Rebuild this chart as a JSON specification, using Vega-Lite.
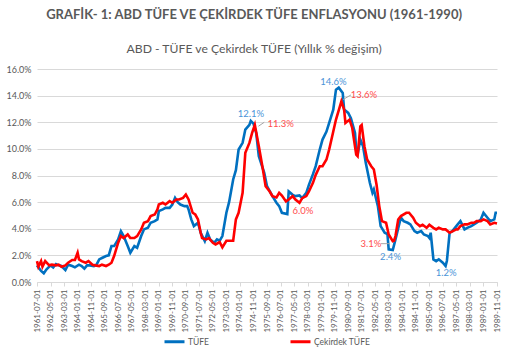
{
"$schema":"https://vega.github.io/schema/vega-lite/v6.json",
"width":460,"height":213,
"padding":{"left":6,"right":5,"top":8,"bottom":5},
"background":"white",
"config":{"font":"Lato","view":{"stroke":null},"legend":{"layout":{"bottom":{"anchor":"middle"}}}},
"title":{"text":"GRAFİK- 1: ABD TÜFE VE ÇEKİRDEK TÜFE ENFLASYONU (1961-1990)","subtitle":"ABD - TÜFE ve Çekirdek TÜFE (Yıllık % değişim)","anchor":"middle","frame":"bounds","fontSize":13,"fontWeight":"bold","color":"#595959","subtitleFontSize":12.2,"subtitleColor":"#595959","subtitlePadding":21,"offset":10},
"datasets":{
"series":[
{"s":"TÜFE","d":"1961-07-01","v":1.25},{"s":"TÜFE","d":"1961-10-01","v":0.83},{"s":"TÜFE","d":"1961-12-01","v":0.65},{"s":"TÜFE","d":"1962-02-01","v":0.95},{"s":"TÜFE","d":"1962-05-01","v":1.25},{"s":"TÜFE","d":"1962-07-01","v":1.1},{"s":"TÜFE","d":"1962-09-01","v":1.35},{"s":"TÜFE","d":"1962-11-01","v":1.25},{"s":"TÜFE","d":"1963-01-01","v":1.2},{"s":"TÜFE","d":"1963-04-01","v":0.9},{"s":"TÜFE","d":"1963-06-01","v":1.3},{"s":"TÜFE","d":"1963-09-01","v":1.2},{"s":"TÜFE","d":"1963-11-01","v":1.1},{"s":"TÜFE","d":"1964-02-01","v":1.3},{"s":"TÜFE","d":"1964-04-01","v":1.2},{"s":"TÜFE","d":"1964-06-01","v":1.0},{"s":"TÜFE","d":"1964-08-01","v":1.25},{"s":"TÜFE","d":"1964-10-01","v":1.25},{"s":"TÜFE","d":"1965-01-01","v":1.2},{"s":"TÜFE","d":"1965-03-01","v":1.3},{"s":"TÜFE","d":"1965-05-01","v":1.7},{"s":"TÜFE","d":"1965-07-01","v":1.8},{"s":"TÜFE","d":"1965-10-01","v":1.95},{"s":"TÜFE","d":"1965-12-01","v":2.0},{"s":"TÜFE","d":"1966-02-01","v":2.7},{"s":"TÜFE","d":"1966-04-01","v":2.7},{"s":"TÜFE","d":"1966-07-01","v":3.2},{"s":"TÜFE","d":"1966-09-01","v":3.82},{"s":"TÜFE","d":"1966-11-01","v":3.45},{"s":"TÜFE","d":"1967-02-01","v":2.7},{"s":"TÜFE","d":"1967-04-01","v":2.2},{"s":"TÜFE","d":"1967-07-01","v":2.7},{"s":"TÜFE","d":"1967-09-01","v":2.57},{"s":"TÜFE","d":"1967-12-01","v":3.45},{"s":"TÜFE","d":"1968-02-01","v":3.95},{"s":"TÜFE","d":"1968-05-01","v":4.07},{"s":"TÜFE","d":"1968-07-01","v":4.45},{"s":"TÜFE","d":"1968-10-01","v":4.57},{"s":"TÜFE","d":"1968-12-01","v":4.7},{"s":"TÜFE","d":"1969-01-01","v":5.32},{"s":"TÜFE","d":"1969-04-01","v":5.45},{"s":"TÜFE","d":"1969-06-01","v":5.57},{"s":"TÜFE","d":"1969-09-01","v":5.57},{"s":"TÜFE","d":"1969-11-01","v":5.82},{"s":"TÜFE","d":"1970-01-01","v":6.32},{"s":"TÜFE","d":"1970-03-01","v":6.0},{"s":"TÜFE","d":"1970-05-01","v":5.82},{"s":"TÜFE","d":"1970-08-01","v":5.7},{"s":"TÜFE","d":"1970-10-01","v":5.7},{"s":"TÜFE","d":"1970-11-01","v":5.45},{"s":"TÜFE","d":"1971-01-01","v":4.7},{"s":"TÜFE","d":"1971-03-01","v":4.2},{"s":"TÜFE","d":"1971-06-01","v":4.45},{"s":"TÜFE","d":"1971-08-01","v":3.7},{"s":"TÜFE","d":"1971-11-01","v":3.07},{"s":"TÜFE","d":"1972-01-01","v":3.7},{"s":"TÜFE","d":"1972-03-01","v":3.2},{"s":"TÜFE","d":"1972-06-01","v":2.95},{"s":"TÜFE","d":"1972-08-01","v":3.2},{"s":"TÜFE","d":"1972-10-01","v":3.1},{"s":"TÜFE","d":"1972-12-01","v":3.45},{"s":"TÜFE","d":"1973-03-01","v":5.2},{"s":"TÜFE","d":"1973-05-01","v":6.0},{"s":"TÜFE","d":"1973-08-01","v":7.7},{"s":"TÜFE","d":"1973-10-01","v":8.4},{"s":"TÜFE","d":"1973-12-01","v":9.95},{"s":"TÜFE","d":"1974-03-01","v":10.45},{"s":"TÜFE","d":"1974-05-01","v":11.45},{"s":"TÜFE","d":"1974-08-01","v":11.8},{"s":"TÜFE","d":"1974-09-01","v":12.1},{"s":"TÜFE","d":"1974-11-01","v":11.9},{"s":"TÜFE","d":"1975-01-01","v":11.2},{"s":"TÜFE","d":"1975-03-01","v":9.45},{"s":"TÜFE","d":"1975-07-01","v":8.2},{"s":"TÜFE","d":"1975-09-01","v":7.2},{"s":"TÜFE","d":"1976-01-01","v":6.45},{"s":"TÜFE","d":"1976-04-01","v":5.95},{"s":"TÜFE","d":"1976-06-01","v":5.7},{"s":"TÜFE","d":"1976-08-01","v":5.2},{"s":"TÜFE","d":"1976-12-01","v":5.1},{"s":"TÜFE","d":"1977-01-01","v":6.8},{"s":"TÜFE","d":"1977-04-01","v":6.55},{"s":"TÜFE","d":"1977-06-01","v":6.45},{"s":"TÜFE","d":"1977-09-01","v":6.5},{"s":"TÜFE","d":"1977-11-01","v":6.3},{"s":"TÜFE","d":"1978-02-01","v":6.7},{"s":"TÜFE","d":"1978-04-01","v":7.3},{"s":"TÜFE","d":"1978-07-01","v":8.1},{"s":"TÜFE","d":"1978-09-01","v":8.7},{"s":"TÜFE","d":"1978-12-01","v":9.95},{"s":"TÜFE","d":"1979-02-01","v":10.7},{"s":"TÜFE","d":"1979-05-01","v":11.3},{"s":"TÜFE","d":"1979-07-01","v":11.95},{"s":"TÜFE","d":"1979-10-01","v":12.95},{"s":"TÜFE","d":"1979-12-01","v":14.45},{"s":"TÜFE","d":"1980-02-01","v":14.6},{"s":"TÜFE","d":"1980-05-01","v":14.2},{"s":"TÜFE","d":"1980-06-01","v":12.95},{"s":"TÜFE","d":"1980-09-01","v":12.7},{"s":"TÜFE","d":"1980-11-01","v":12.3},{"s":"TÜFE","d":"1981-02-01","v":11.2},{"s":"TÜFE","d":"1981-03-01","v":9.95},{"s":"TÜFE","d":"1981-04-01","v":9.57},{"s":"TÜFE","d":"1981-06-01","v":10.7},{"s":"TÜFE","d":"1981-08-01","v":10.2},{"s":"TÜFE","d":"1981-10-01","v":8.95},{"s":"TÜFE","d":"1982-01-01","v":7.45},{"s":"TÜFE","d":"1982-03-01","v":6.7},{"s":"TÜFE","d":"1982-04-01","v":6.95},{"s":"TÜFE","d":"1982-07-01","v":5.7},{"s":"TÜFE","d":"1982-09-01","v":4.2},{"s":"TÜFE","d":"1982-12-01","v":3.7},{"s":"TÜFE","d":"1983-02-01","v":3.6},{"s":"TÜFE","d":"1983-03-01","v":2.45},{"s":"TÜFE","d":"1983-06-01","v":2.4},{"s":"TÜFE","d":"1983-08-01","v":3.2},{"s":"TÜFE","d":"1983-11-01","v":4.45},{"s":"TÜFE","d":"1983-12-01","v":4.83},{"s":"TÜFE","d":"1984-02-01","v":4.57},{"s":"TÜFE","d":"1984-05-01","v":4.45},{"s":"TÜFE","d":"1984-07-01","v":4.33},{"s":"TÜFE","d":"1984-10-01","v":3.82},{"s":"TÜFE","d":"1984-12-01","v":3.7},{"s":"TÜFE","d":"1985-03-01","v":3.82},{"s":"TÜFE","d":"1985-05-01","v":3.57},{"s":"TÜFE","d":"1985-08-01","v":3.45},{"s":"TÜFE","d":"1985-09-01","v":3.32},{"s":"TÜFE","d":"1985-10-01","v":3.7},{"s":"TÜFE","d":"1985-12-01","v":1.7},{"s":"TÜFE","d":"1986-02-01","v":1.57},{"s":"TÜFE","d":"1986-04-01","v":1.7},{"s":"TÜFE","d":"1986-07-01","v":1.45},{"s":"TÜFE","d":"1986-09-01","v":1.2},{"s":"TÜFE","d":"1986-10-01","v":1.6},{"s":"TÜFE","d":"1986-12-01","v":3.7},{"s":"TÜFE","d":"1987-02-01","v":3.82},{"s":"TÜFE","d":"1987-05-01","v":4.2},{"s":"TÜFE","d":"1987-06-01","v":4.33},{"s":"TÜFE","d":"1987-08-01","v":4.57},{"s":"TÜFE","d":"1987-11-01","v":3.95},{"s":"TÜFE","d":"1988-01-01","v":4.07},{"s":"TÜFE","d":"1988-04-01","v":4.2},{"s":"TÜFE","d":"1988-06-01","v":4.33},{"s":"TÜFE","d":"1988-08-01","v":4.45},{"s":"TÜFE","d":"1988-11-01","v":4.7},{"s":"TÜFE","d":"1989-01-01","v":5.2},{"s":"TÜFE","d":"1989-04-01","v":4.83},{"s":"TÜFE","d":"1989-06-01","v":4.57},{"s":"TÜFE","d":"1989-09-01","v":4.7},{"s":"TÜFE","d":"1989-10-01","v":5.2},{"s":"TÜFE","d":"1989-11-01","v":5.2},
{"s":"Çekirdek TÜFE","d":"1961-07-01","v":1.57},{"s":"Çekirdek TÜFE","d":"1961-08-01","v":1.15},{"s":"Çekirdek TÜFE","d":"1961-10-01","v":1.57},{"s":"Çekirdek TÜFE","d":"1961-11-01","v":1.15},{"s":"Çekirdek TÜFE","d":"1962-01-01","v":1.57},{"s":"Çekirdek TÜFE","d":"1962-04-01","v":1.25},{"s":"Çekirdek TÜFE","d":"1962-06-01","v":1.3},{"s":"Çekirdek TÜFE","d":"1962-09-01","v":1.25},{"s":"Çekirdek TÜFE","d":"1962-11-01","v":1.3},{"s":"Çekirdek TÜFE","d":"1963-01-01","v":1.15},{"s":"Çekirdek TÜFE","d":"1963-04-01","v":1.25},{"s":"Çekirdek TÜFE","d":"1963-06-01","v":1.45},{"s":"Çekirdek TÜFE","d":"1963-09-01","v":1.65},{"s":"Çekirdek TÜFE","d":"1963-11-01","v":1.65},{"s":"Çekirdek TÜFE","d":"1964-01-01","v":2.2},{"s":"Çekirdek TÜFE","d":"1964-02-01","v":1.7},{"s":"Çekirdek TÜFE","d":"1964-04-01","v":1.57},{"s":"Çekirdek TÜFE","d":"1964-07-01","v":1.45},{"s":"Çekirdek TÜFE","d":"1964-09-01","v":1.57},{"s":"Çekirdek TÜFE","d":"1964-12-01","v":1.3},{"s":"Çekirdek TÜFE","d":"1965-02-01","v":1.25},{"s":"Çekirdek TÜFE","d":"1965-05-01","v":1.2},{"s":"Çekirdek TÜFE","d":"1965-07-01","v":1.3},{"s":"Çekirdek TÜFE","d":"1965-10-01","v":1.2},{"s":"Çekirdek TÜFE","d":"1965-12-01","v":1.3},{"s":"Çekirdek TÜFE","d":"1966-02-01","v":1.45},{"s":"Çekirdek TÜFE","d":"1966-04-01","v":1.95},{"s":"Çekirdek TÜFE","d":"1966-07-01","v":2.95},{"s":"Çekirdek TÜFE","d":"1966-09-01","v":3.45},{"s":"Çekirdek TÜFE","d":"1966-11-01","v":3.3},{"s":"Çekirdek TÜFE","d":"1967-02-01","v":3.57},{"s":"Çekirdek TÜFE","d":"1967-04-01","v":3.3},{"s":"Çekirdek TÜFE","d":"1967-07-01","v":3.3},{"s":"Çekirdek TÜFE","d":"1967-09-01","v":3.45},{"s":"Çekirdek TÜFE","d":"1967-12-01","v":3.95},{"s":"Çekirdek TÜFE","d":"1968-02-01","v":4.45},{"s":"Çekirdek TÜFE","d":"1968-05-01","v":4.57},{"s":"Çekirdek TÜFE","d":"1968-07-01","v":4.95},{"s":"Çekirdek TÜFE","d":"1968-10-01","v":5.07},{"s":"Çekirdek TÜFE","d":"1968-12-01","v":5.45},{"s":"Çekirdek TÜFE","d":"1969-01-01","v":5.82},{"s":"Çekirdek TÜFE","d":"1969-04-01","v":5.95},{"s":"Çekirdek TÜFE","d":"1969-06-01","v":5.82},{"s":"Çekirdek TÜFE","d":"1969-09-01","v":6.07},{"s":"Çekirdek TÜFE","d":"1969-11-01","v":5.95},{"s":"Çekirdek TÜFE","d":"1970-02-01","v":6.2},{"s":"Çekirdek TÜFE","d":"1970-04-01","v":6.2},{"s":"Çekirdek TÜFE","d":"1970-07-01","v":6.32},{"s":"Çekirdek TÜFE","d":"1970-09-01","v":6.57},{"s":"Çekirdek TÜFE","d":"1970-11-01","v":6.2},{"s":"Çekirdek TÜFE","d":"1971-02-01","v":5.2},{"s":"Çekirdek TÜFE","d":"1971-04-01","v":5.07},{"s":"Çekirdek TÜFE","d":"1971-06-01","v":4.7},{"s":"Çekirdek TÜFE","d":"1971-08-01","v":3.7},{"s":"Çekirdek TÜFE","d":"1971-09-01","v":3.3},{"s":"Çekirdek TÜFE","d":"1971-12-01","v":3.2},{"s":"Çekirdek TÜFE","d":"1972-02-01","v":3.3},{"s":"Çekirdek TÜFE","d":"1972-05-01","v":2.95},{"s":"Çekirdek TÜFE","d":"1972-07-01","v":2.82},{"s":"Çekirdek TÜFE","d":"1972-10-01","v":3.0},{"s":"Çekirdek TÜFE","d":"1972-12-01","v":2.6},{"s":"Çekirdek TÜFE","d":"1973-03-01","v":3.1},{"s":"Çekirdek TÜFE","d":"1973-05-01","v":3.1},{"s":"Çekirdek TÜFE","d":"1973-08-01","v":3.1},{"s":"Çekirdek TÜFE","d":"1973-10-01","v":4.7},{"s":"Çekirdek TÜFE","d":"1973-12-01","v":5.2},{"s":"Çekirdek TÜFE","d":"1974-03-01","v":6.7},{"s":"Çekirdek TÜFE","d":"1974-05-01","v":9.7},{"s":"Çekirdek TÜFE","d":"1974-08-01","v":10.45},{"s":"Çekirdek TÜFE","d":"1974-10-01","v":11.2},{"s":"Çekirdek TÜFE","d":"1974-12-01","v":11.8},{"s":"Çekirdek TÜFE","d":"1975-03-01","v":10.2},{"s":"Çekirdek TÜFE","d":"1975-06-01","v":8.45},{"s":"Çekirdek TÜFE","d":"1975-08-01","v":7.2},{"s":"Çekirdek TÜFE","d":"1975-11-01","v":6.8},{"s":"Çekirdek TÜFE","d":"1976-01-01","v":6.45},{"s":"Çekirdek TÜFE","d":"1976-04-01","v":6.35},{"s":"Çekirdek TÜFE","d":"1976-06-01","v":6.7},{"s":"Çekirdek TÜFE","d":"1976-08-01","v":6.5},{"s":"Çekirdek TÜFE","d":"1976-11-01","v":6.05},{"s":"Çekirdek TÜFE","d":"1977-01-01","v":6.2},{"s":"Çekirdek TÜFE","d":"1977-04-01","v":6.45},{"s":"Çekirdek TÜFE","d":"1977-06-01","v":6.2},{"s":"Çekirdek TÜFE","d":"1977-09-01","v":5.95},{"s":"Çekirdek TÜFE","d":"1977-11-01","v":6.3},{"s":"Çekirdek TÜFE","d":"1978-02-01","v":6.45},{"s":"Çekirdek TÜFE","d":"1978-04-01","v":6.8},{"s":"Çekirdek TÜFE","d":"1978-07-01","v":7.45},{"s":"Çekirdek TÜFE","d":"1978-09-01","v":8.05},{"s":"Çekirdek TÜFE","d":"1978-12-01","v":8.7},{"s":"Çekirdek TÜFE","d":"1979-02-01","v":8.7},{"s":"Çekirdek TÜFE","d":"1979-05-01","v":9.2},{"s":"Çekirdek TÜFE","d":"1979-07-01","v":9.95},{"s":"Çekirdek TÜFE","d":"1979-10-01","v":11.3},{"s":"Çekirdek TÜFE","d":"1979-12-01","v":12.2},{"s":"Çekirdek TÜFE","d":"1980-04-01","v":13.57},{"s":"Çekirdek TÜFE","d":"1980-06-01","v":12.95},{"s":"Çekirdek TÜFE","d":"1980-07-01","v":11.95},{"s":"Çekirdek TÜFE","d":"1980-10-01","v":12.2},{"s":"Çekirdek TÜFE","d":"1980-12-01","v":11.57},{"s":"Çekirdek TÜFE","d":"1981-03-01","v":9.57},{"s":"Çekirdek TÜFE","d":"1981-04-01","v":9.45},{"s":"Çekirdek TÜFE","d":"1981-06-01","v":11.7},{"s":"Çekirdek TÜFE","d":"1981-07-01","v":11.8},{"s":"Çekirdek TÜFE","d":"1981-09-01","v":10.2},{"s":"Çekirdek TÜFE","d":"1981-11-01","v":9.2},{"s":"Çekirdek TÜFE","d":"1982-02-01","v":8.7},{"s":"Çekirdek TÜFE","d":"1982-04-01","v":8.45},{"s":"Çekirdek TÜFE","d":"1982-06-01","v":7.3},{"s":"Çekirdek TÜFE","d":"1982-08-01","v":5.7},{"s":"Çekirdek TÜFE","d":"1982-10-01","v":4.57},{"s":"Çekirdek TÜFE","d":"1983-01-01","v":4.45},{"s":"Çekirdek TÜFE","d":"1983-03-01","v":3.57},{"s":"Çekirdek TÜFE","d":"1983-06-01","v":3.07},{"s":"Çekirdek TÜFE","d":"1983-07-01","v":3.1},{"s":"Çekirdek TÜFE","d":"1983-08-01","v":3.45},{"s":"Çekirdek TÜFE","d":"1983-10-01","v":4.7},{"s":"Çekirdek TÜFE","d":"1983-12-01","v":4.95},{"s":"Çekirdek TÜFE","d":"1984-04-01","v":5.2},{"s":"Çekirdek TÜFE","d":"1984-06-01","v":5.2},{"s":"Çekirdek TÜFE","d":"1984-09-01","v":4.83},{"s":"Çekirdek TÜFE","d":"1984-11-01","v":4.45},{"s":"Çekirdek TÜFE","d":"1985-02-01","v":4.2},{"s":"Çekirdek TÜFE","d":"1985-04-01","v":4.3},{"s":"Çekirdek TÜFE","d":"1985-07-01","v":4.07},{"s":"Çekirdek TÜFE","d":"1985-09-01","v":4.3},{"s":"Çekirdek TÜFE","d":"1985-12-01","v":4.07},{"s":"Çekirdek TÜFE","d":"1986-02-01","v":3.95},{"s":"Çekirdek TÜFE","d":"1986-04-01","v":4.07},{"s":"Çekirdek TÜFE","d":"1986-07-01","v":3.95},{"s":"Çekirdek TÜFE","d":"1986-09-01","v":3.95},{"s":"Çekirdek TÜFE","d":"1986-12-01","v":3.7},{"s":"Çekirdek TÜFE","d":"1987-02-01","v":3.8},{"s":"Çekirdek TÜFE","d":"1987-05-01","v":3.95},{"s":"Çekirdek TÜFE","d":"1987-06-01","v":3.95},{"s":"Çekirdek TÜFE","d":"1987-08-01","v":4.2},{"s":"Çekirdek TÜFE","d":"1987-11-01","v":4.33},{"s":"Çekirdek TÜFE","d":"1988-01-01","v":4.33},{"s":"Çekirdek TÜFE","d":"1988-04-01","v":4.45},{"s":"Çekirdek TÜFE","d":"1988-06-01","v":4.45},{"s":"Çekirdek TÜFE","d":"1988-08-01","v":4.57},{"s":"Çekirdek TÜFE","d":"1988-11-01","v":4.57},{"s":"Çekirdek TÜFE","d":"1989-01-01","v":4.7},{"s":"Çekirdek TÜFE","d":"1989-04-01","v":4.57},{"s":"Çekirdek TÜFE","d":"1989-06-01","v":4.33},{"s":"Çekirdek TÜFE","d":"1989-09-01","v":4.45},{"s":"Çekirdek TÜFE","d":"1989-11-01","v":4.4}
],
"labels":[
{"s":"TÜFE","d":"1974-09-04","v":12.65,"t":"12.1%"},
{"s":"Çekirdek TÜFE","d":"1976-07-07","v":11.9,"t":"11.3%"},
{"s":"TÜFE","d":"1979-10-07","v":15.05,"t":"14.6%"},
{"s":"Çekirdek TÜFE","d":"1981-08-19","v":14.02,"t":"13.6%"},
{"s":"Çekirdek TÜFE","d":"1977-11-16","v":5.37,"t":"6.0%"},
{"s":"Çekirdek TÜFE","d":"1982-01-26","v":2.88,"t":"3.1%"},
{"s":"TÜFE","d":"1983-04-12","v":1.87,"t":"2.4%"},
{"s":"TÜFE","d":"1986-09-16","v":0.7,"t":"1.2%"}
],
"leaders":[
{"d":"1975-02-20","v":11.7,"d2":"1975-07-01","v2":12.0},
{"d":"1980-05-04","v":13.7,"d2":"1980-11-01","v2":14.05},
{"d":"1982-09-01","v":2.88,"d2":"1983-03-20","v2":2.88}
]
},
"encoding":{
  "x":{"field":"d","type":"temporal","title":null,
   "scale":{"domain":[{"year":1961,"month":7,"date":1,"utc":true},{"year":1989,"month":11,"date":1,"utc":true}]},
   "axis":{"values":[{"year":1961,"month":7,"date":1,"utc":true},{"year":1962,"month":5,"date":1,"utc":true},{"year":1963,"month":3,"date":1,"utc":true},{"year":1964,"month":1,"date":1,"utc":true},{"year":1964,"month":11,"date":1,"utc":true},{"year":1965,"month":9,"date":1,"utc":true},{"year":1966,"month":7,"date":1,"utc":true},{"year":1967,"month":5,"date":1,"utc":true},{"year":1968,"month":3,"date":1,"utc":true},{"year":1969,"month":1,"date":1,"utc":true},{"year":1969,"month":11,"date":1,"utc":true},{"year":1970,"month":9,"date":1,"utc":true},{"year":1971,"month":7,"date":1,"utc":true},{"year":1972,"month":5,"date":1,"utc":true},{"year":1973,"month":3,"date":1,"utc":true},{"year":1974,"month":1,"date":1,"utc":true},{"year":1974,"month":11,"date":1,"utc":true},{"year":1975,"month":9,"date":1,"utc":true},{"year":1976,"month":7,"date":1,"utc":true},{"year":1977,"month":5,"date":1,"utc":true},{"year":1978,"month":3,"date":1,"utc":true},{"year":1979,"month":1,"date":1,"utc":true},{"year":1979,"month":11,"date":1,"utc":true},{"year":1980,"month":9,"date":1,"utc":true},{"year":1981,"month":7,"date":1,"utc":true},{"year":1982,"month":5,"date":1,"utc":true},{"year":1983,"month":3,"date":1,"utc":true},{"year":1984,"month":1,"date":1,"utc":true},{"year":1984,"month":11,"date":1,"utc":true},{"year":1985,"month":9,"date":1,"utc":true},{"year":1986,"month":7,"date":1,"utc":true},{"year":1987,"month":5,"date":1,"utc":true},{"year":1988,"month":3,"date":1,"utc":true},{"year":1989,"month":1,"date":1,"utc":true},{"year":1989,"month":11,"date":1,"utc":true}],
    "labelExpr":"utcFormat(datum.value, '%Y-%m-%d')","labelAngle":-90,"labelFontSize":8,"labelColor":"#595959","labelPadding":3,"grid":false,"domainColor":"#d9d9d9","tickColor":"#d9d9d9","tickSize":4,"labelOverlap":false,"labelFlush":false}},
  "y":{"field":"v","type":"quantitative","title":null,"scale":{"domain":[0,16]},
   "axis":{"values":[0,2,4,6,8,10,12,14,16],"labelExpr":"format(datum.value,'.1f')+'%'","labelFontSize":9,"labelColor":"#595959","labelPadding":6,"labelOverlap":false,"domain":false,"ticks":false,"gridColor":"#d9d9d9"}}
},
"layer":[
{"data":{"name":"series"},
 "mark":{"type":"line","strokeWidth":2.6},
 "encoding":{
  "color":{"field":"s","type":"nominal","scale":{"domain":["TÜFE","Çekirdek TÜFE"],"range":["#0070C0","#FF0000"]},
   "legend":{"orient":"bottom","direction":"horizontal","title":null,"symbolType":"stroke","symbolStrokeWidth":3,"symbolSize":400,"labelFontSize":8.5,"labelOffset":2,"labelColor":"#595959","columnPadding":75,"offset":-3}}}},
{"data":{"name":"leaders"},
 "mark":{"type":"rule","color":"#a6a6a6","strokeWidth":1},
 "encoding":{"x2":{"field":"d2"},"y2":{"field":"v2"}}},
{"data":{"name":"labels"},
 "mark":{"type":"text","fontSize":9.5,"align":"center","baseline":"middle"},
 "encoding":{"text":{"field":"t"},
  "color":{"field":"s","type":"nominal","scale":{"domain":["TÜFE","Çekirdek TÜFE"],"range":["#4a94d8","#ff4d4d"]},"legend":null}}}
],
"resolve":{"scale":{"color":"independent"}}
}
